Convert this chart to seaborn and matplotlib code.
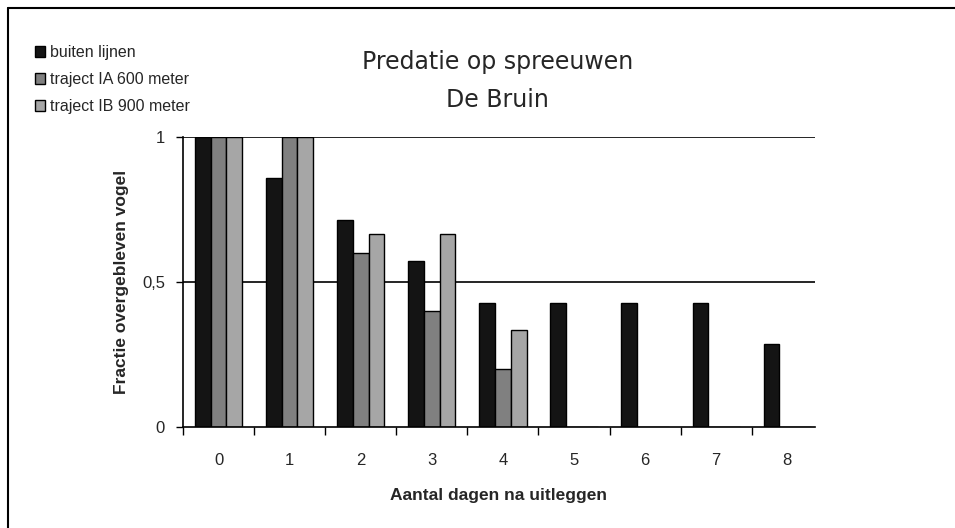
import matplotlib
matplotlib.use("Agg")
import matplotlib.pyplot as plt
import numpy as np
import pandas as pd
import seaborn as sns
from matplotlib.lines import Line2D
from matplotlib.ticker import FixedLocator

# data
days = [0, 1, 2, 3, 4, 5, 6, 7, 8]
series = ["buiten lijnen", "traject IA 600 meter", "traject IB 900 meter"]
buiten = [1.0, 0.857, 0.714, 0.571, 0.429, 0.429, 0.429, 0.429, 0.286]
traject_ia = [1.0, 1.0, 0.6, 0.4, 0.2, 0, 0, 0, 0]
traject_ib = [1.0, 1.0, 0.667, 0.667, 0.333, 0, 0, 0, 0]
colors = ["#141414", "#808080", "#a6a6a6"]

df = pd.DataFrame({
    "dag": days * 3,
    "serie": [series[0]] * 9 + [series[1]] * 9 + [series[2]] * 9,
    "fractie": buiten + traject_ia + traject_ib,
})

sns.set_style("white")
plt.rcParams["font.family"] = ["Liberation Sans", "DejaVu Sans"]

fig = plt.figure(figsize=(9.55, 5.28), dpi=100)
ax = fig.add_axes([0.1916, 0.1913, 0.6618, 0.5492])

sns.barplot(data=df, x="dag", y="fractie", hue="serie", hue_order=series,
            palette=colors, width=0.665, saturation=1, edgecolor="black",
            linewidth=1.0, ax=ax, legend=True)

handles, labels = ax.get_legend_handles_labels()
ax.get_legend().remove()

ax.set_ylim(0, 1)
ax.set_xlim(-0.5, 8.39)
ax.set_yticks([0, 0.5, 1])
ax.set_yticklabels(["0", "0,5", "1"], fontsize=12)
ax.set_xticks(days)
ax.set_xticklabels([str(d) for d in days], fontsize=12)
ax.xaxis.set_minor_locator(FixedLocator(np.arange(-0.5, 8.5, 1.0)))
ax.tick_params(axis="x", which="major", length=0, pad=19)
ax.tick_params(axis="x", which="minor", length=6, width=1, color="black", direction="out", bottom=True)
ax.tick_params(axis="y", length=5, width=1, color="black", direction="out", left=True, pad=8)

for y in [0.5, 1.0]:
    ax.axhline(y, color="black", linewidth=1.2, zorder=0)

for side in ["top", "right"]:
    ax.spines[side].set_visible(False)
for side in ["left", "bottom"]:
    ax.spines[side].set_color("black")
    ax.spines[side].set_linewidth(1.2)

ax.set_xlabel("Aantal dagen na uitleggen", fontsize=12.5, fontweight="bold", labelpad=14)
ax.set_ylabel("Fractie overgebleven vogel", fontsize=12.5, fontweight="bold", labelpad=9)

fig.text(0.521, 0.883, "Predatie op spreeuwen", ha="center", va="center",
         fontsize=17, family=["DejaVu Sans"])
fig.text(0.521, 0.81, "De Bruin", ha="center", va="center",
         fontsize=17, family=["DejaVu Sans"])

fig.legend(handles, labels, loc="upper left", bbox_to_anchor=(0.028, 0.93),
           frameon=False, fontsize=11.5, handlelength=0.65, handleheight=0.65,
           handletextpad=0.3, labelspacing=0.75, borderpad=0)

# border of the chart area (cropped at right and bottom in the reference)
fig.add_artist(Line2D([8 / 955, 8 / 955], [0, 1 - 8 / 528], transform=fig.transFigure, color="black", linewidth=1.5))
fig.add_artist(Line2D([8 / 955, 1], [1 - 8 / 528, 1 - 8 / 528], transform=fig.transFigure, color="black", linewidth=1.5))

fig.savefig("out.png", dpi=100)
